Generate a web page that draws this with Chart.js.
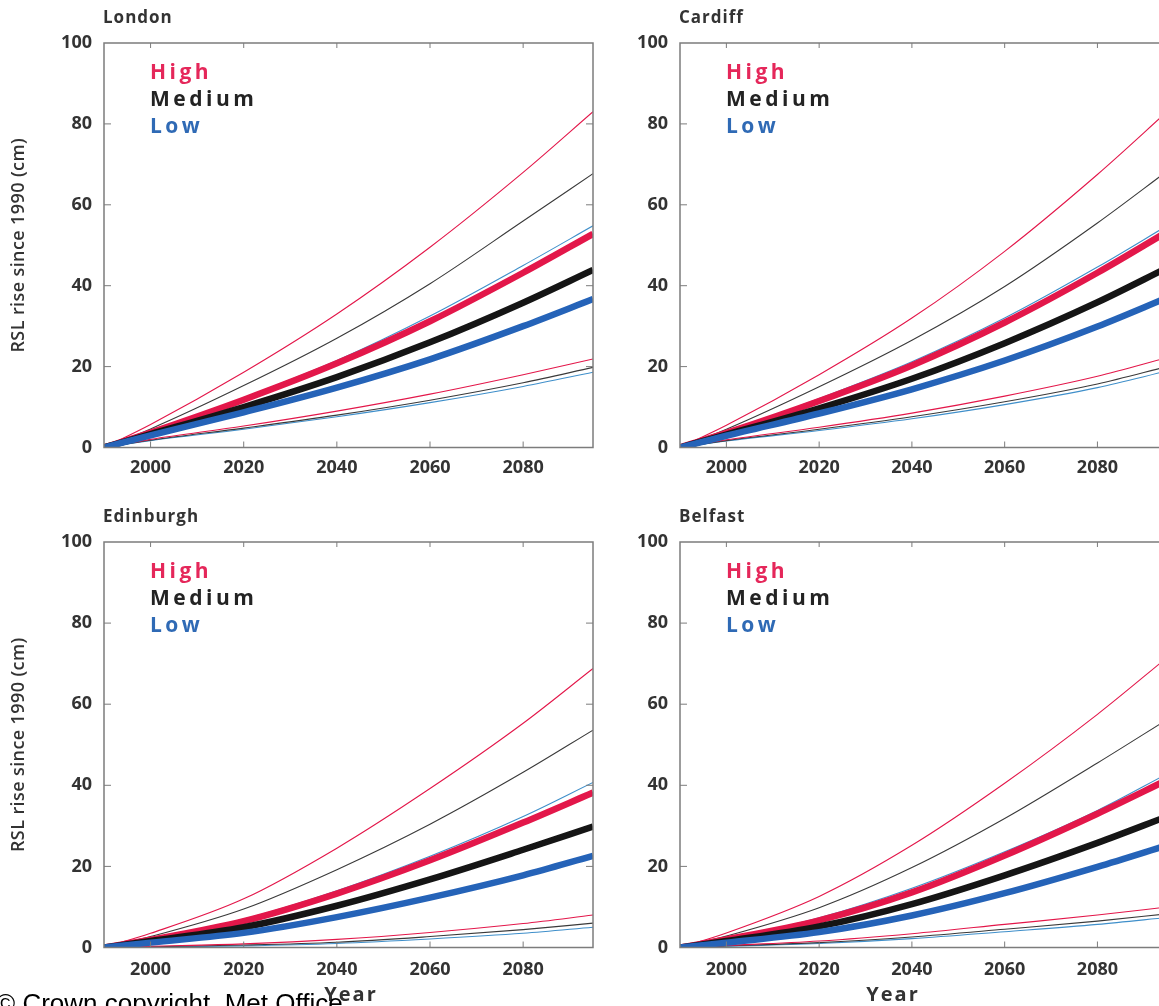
<!DOCTYPE html>
<html>
<head>
<title>UK relative sea level rise projections</title>
<script src="https://cdn.jsdelivr.net/npm/chart.js@4.4.0/dist/chart.umd.min.js"></script>
<style>
  body { margin: 0; width: 1159px; height: 1006px; overflow: hidden; background: #fff; position: relative; }
  canvas { position: absolute; }
  #copy { position: absolute; left: -4px; top: 990px; font: 26px "Liberation Sans", Arial, sans-serif; line-height: 26px; color: #000; white-space: nowrap; }
</style>
<script>
var years = [1990, 2000, 2020, 2040, 2060, 2080, 2095];
var yearTicks = [2000, 2020, 2040, 2060, 2080];
var rslTicks = [0, 20, 40, 60, 80, 100];

// London (cm)
var lonHighUp  = [0, 5.7, 18.6, 33.0, 49.5, 68.0, 83.0];
var lonMedUp   = [0, 4.6, 15.3, 27.0, 40.5, 56.0, 67.7];
var lonLowUp   = [0, 3.9, 12.3, 21.5, 32.5, 45.0, 54.8];
var lonHighMid = [0, 3.7, 11.8, 20.8, 31.2, 43.2, 52.8];
var lonMedMid  = [0, 3.3, 10.0, 17.4, 26.0, 35.8, 43.9];
var lonLowMid  = [0, 3.0, 8.7, 14.8, 21.8, 30.0, 36.7];
var lonHighLow = [0, 2.0, 5.3, 9.0, 13.2, 18.0, 21.9];
var lonMedLow  = [0, 1.8, 4.8, 8.0, 11.7, 16.0, 19.8];
var lonLowLow  = [0, 1.7, 4.5, 7.6, 11.1, 15.1, 18.6];

// Cardiff
var cdfHighUp  = [0, 5.5, 18.0, 32.0, 48.5, 67.5, 83.0];
var cdfMedUp   = [0, 4.5, 15.0, 26.5, 39.8, 55.5, 68.3];
var cdfLowUp   = [0, 3.8, 12.1, 21.2, 32.0, 44.6, 54.8];
var cdfHighMid = [0, 3.6, 11.5, 20.3, 30.9, 43.2, 53.3];
var cdfMedMid  = [0, 3.2, 9.7, 17.0, 25.8, 35.9, 44.4];
var cdfLowMid  = [0, 2.9, 8.4, 14.4, 21.5, 29.9, 37.0];
var cdfHighLow = [0, 1.9, 5.0, 8.5, 12.7, 17.6, 22.2];
var cdfMedLow  = [0, 1.7, 4.5, 7.6, 11.3, 15.7, 20.0];
var cdfLowLow  = [0, 1.6, 4.2, 7.1, 10.6, 14.8, 18.9];

// Edinburgh
var ednHighUp  = [0, 3.5, 12.0, 24.5, 39.2, 55.3, 68.8];
var ednMedUp   = [0, 2.7, 9.5, 19.2, 30.4, 43.2, 53.6];
var ednLowUp   = [0, 2.0, 7.0, 14.0, 22.5, 32.3, 40.7];
var ednHighMid = [0, 1.9, 6.5, 13.3, 21.5, 30.8, 38.2];
var ednMedMid  = [0, 1.6, 5.0, 10.3, 16.8, 24.1, 29.8];
var ednLowMid  = [0, 1.2, 3.6, 7.5, 12.3, 17.8, 22.6];
var ednHighLow = [0, 0.3, 0.9, 2.0, 3.7, 5.9, 8.0];
var ednMedLow  = [0, 0.2, 0.6, 1.3, 2.7, 4.4, 6.0];
var ednLowLow  = [0, 0.1, 0.4, 1.0, 2.1, 3.5, 5.0];

// Belfast
var bfsHighUp  = [0, 3.6, 12.6, 25.2, 40.5, 57.5, 71.5];
var bfsMedUp   = [0, 2.8, 9.8, 19.7, 31.8, 45.5, 56.2];
var bfsLowUp   = [0, 2.1, 7.3, 14.6, 23.6, 33.8, 42.8];
var bfsHighMid = [0, 2.0, 6.7, 13.6, 22.7, 33.0, 41.3];
var bfsMedMid  = [0, 1.6, 5.2, 10.7, 17.8, 25.8, 32.3];
var bfsLowMid  = [0, 1.2, 3.8, 7.9, 13.4, 19.9, 25.2];
var bfsHighLow = [0, 0.5, 1.6, 3.4, 5.7, 8.0, 10.0];
var bfsMedLow  = [0, 0.4, 1.2, 2.6, 4.5, 6.5, 8.3];
var bfsLowLow  = [0, 0.3, 1.0, 2.2, 3.9, 5.7, 7.4];

var RED = '#e3174a', BLACK = '#151515', BLUE = '#2563b8';

function line(vals, color, width, order) {
    return {
        data: years.map(function (x, i) { return { x: x, y: vals[i] }; }),
        borderColor: color,
        borderWidth: width,
        order: order,
        pointRadius: 0,
        fill: false
    };
}

// box with inward ticks, panel title, legend and axis titles
var panelFrame = {
    id: 'panelFrame',
    afterDatasetsDraw: function (chart, args, opts) {
        var ctx = chart.ctx, a = chart.chartArea;
        var xs = chart.scales.x, ys = chart.scales.y;
        ctx.save();
        ctx.strokeStyle = '#7c7c7c';
        ctx.lineWidth = 1.5;
        ctx.strokeRect(a.left, a.top, a.right - a.left, a.bottom - a.top);
        ctx.lineWidth = 1;
        ctx.beginPath();
        xs.ticks.forEach(function (t) {
            var px = xs.getPixelForValue(t.value);
            ctx.moveTo(px, a.bottom); ctx.lineTo(px, a.bottom - 6);
            ctx.moveTo(px, a.top); ctx.lineTo(px, a.top + 5);
        });
        ys.ticks.forEach(function (t) {
            var py = ys.getPixelForValue(t.value);
            if (t.value == 0 || t.value == 100) return;
            ctx.moveTo(a.left, py); ctx.lineTo(a.left + 7, py);
            ctx.moveTo(a.right, py); ctx.lineTo(a.right - 7, py);
        });
        ctx.stroke();

        ctx.textBaseline = 'middle';
        ctx.textAlign = 'left';
        ctx.fillStyle = '#333';
        ctx.font = '700 17px "Open Sans"';
        ctx.letterSpacing = '1px';
        ctx.fillText(opts.title, a.left - 1, a.top - 25);

        ctx.font = '700 21px "Open Sans"';
        ctx.letterSpacing = '3.5px';
        var names = ['High', 'Medium', 'Low'];
        var cols = ['#e5275a', '#232323', '#2f6ab5'];
        names.forEach(function (n, i) {
            ctx.fillStyle = cols[i];
            ctx.fillText(n, a.left + 46, a.top + 30 + i * 27);
        });

        if (opts.yTitle) {
            ctx.save();
            ctx.translate(19, (a.top + a.bottom) / 2);
            ctx.rotate(-Math.PI / 2);
            ctx.textAlign = 'center';
            ctx.fillStyle = '#333';
            ctx.font = '600 18px "Open Sans"';
            ctx.letterSpacing = '0.4px';
            ctx.fillText('RSL rise since 1990 (cm)', 0, 0);
            ctx.restore();
        }
        if (opts.yearX) {
            ctx.textAlign = 'center';
            ctx.fillStyle = '#333';
            ctx.font = '700 20px "Open Sans"';
            ctx.letterSpacing = '2px';
            ctx.fillText('Year', opts.yearX, a.bottom + 48);
        }
        ctx.restore();
    }
};

function makePanel(id, p, sets) {
    var tickFont = { family: 'Open Sans', weight: '700', size: 18 };
    return new Chart(document.getElementById(id), {
        type: 'line',
        data: {
            datasets: [
                line(sets[0], RED, 1.1, 5), line(sets[1], '#3a3a3a', 1.1, 5), line(sets[2], '#3f8fca', 1.1, 5),
                line(sets[3], RED, 6.5, 2), line(sets[4], BLACK, 6.5, 1), line(sets[5], BLUE, 6.5, 0),
                line(sets[6], RED, 1.1, 5), line(sets[7], '#3a3a3a', 1.1, 5), line(sets[8], '#3f8fca', 1.1, 5)
            ]
        },
        options: {
            responsive: false,
            animation: false,
            layout: { padding: { top: p.padTop, right: p.padRight, bottom: p.padBottom, left: 0 } },
            elements: { line: { cubicInterpolationMode: 'monotone' }, point: { radius: 0 } },
            plugins: {
                legend: { display: false },
                tooltip: { enabled: false },
                panelFrame: { title: p.title, yTitle: p.yTitle, yearX: p.yearX }
            },
            scales: {
                x: {
                    type: 'linear', min: 1990, max: 2095,
                    afterBuildTicks: function (s) { s.ticks = yearTicks.map(function (v) { return { value: v }; }); },
                    afterFit: function (s) { s.height = 40; },
                    grid: { display: false, drawTicks: false },
                    border: { display: false },
                    ticks: { font: tickFont, color: '#333', padding: p.xPad, maxRotation: 0, autoSkip: false,
                             callback: function (v) { return String(v); } }
                },
                y: {
                    min: 0, max: 100,
                    afterBuildTicks: function (s) { s.ticks = rslTicks.map(function (v) { return { value: v }; }); },
                    afterFit: function (s) { s.width = p.yWidth; },
                    grid: { display: false, drawTicks: false },
                    border: { display: false },
                    ticks: { font: tickFont, color: '#333', padding: 12, callback: function (v) { return String(v); } }
                }
            }
        },
        plugins: [panelFrame]
    });
}

window.addEventListener('load', function () {
    makePanel('london', { title: 'London', yTitle: true, yWidth: 104, padTop: 43, padRight: 7, padBottom: 2.5, xPad: 10 },
        [lonHighUp, lonMedUp, lonLowUp, lonHighMid, lonMedMid, lonLowMid, lonHighLow, lonMedLow, lonLowLow]);
    makePanel('cardiff', { title: 'Cardiff', yTitle: false, yWidth: 100, padTop: 43, padRight: 13, padBottom: 2.5, xPad: 10 },
        [cdfHighUp, cdfMedUp, cdfLowUp, cdfHighMid, cdfMedMid, cdfLowMid, cdfHighLow, cdfMedLow, cdfLowLow]);
    makePanel('edinburgh', { title: 'Edinburgh', yTitle: true, yearX: 351, yWidth: 104, padTop: 42, padRight: 7, padBottom: 18.5, xPad: 12 },
        [ednHighUp, ednMedUp, ednLowUp, ednHighMid, ednMedMid, ednLowMid, ednHighLow, ednMedLow, ednLowLow]);
    makePanel('belfast', { title: 'Belfast', yTitle: false, yearX: 313, yWidth: 100, padTop: 42, padRight: 13, padBottom: 18.5, xPad: 12 },
        [bfsHighUp, bfsMedUp, bfsLowUp, bfsHighMid, bfsMedMid, bfsLowMid, bfsHighLow, bfsMedLow, bfsLowLow]);
});
</script>
</head>
<body>
<canvas id="london" width="600" height="490" style="left:0;top:0"></canvas>
<canvas id="cardiff" width="600" height="490" style="left:580px;top:0"></canvas>
<canvas id="edinburgh" width="600" height="506" style="left:0;top:500px"></canvas>
<canvas id="belfast" width="600" height="506" style="left:580px;top:500px"></canvas>
<div id="copy">© Crown copyright, Met Office</div>
</body>
</html>
